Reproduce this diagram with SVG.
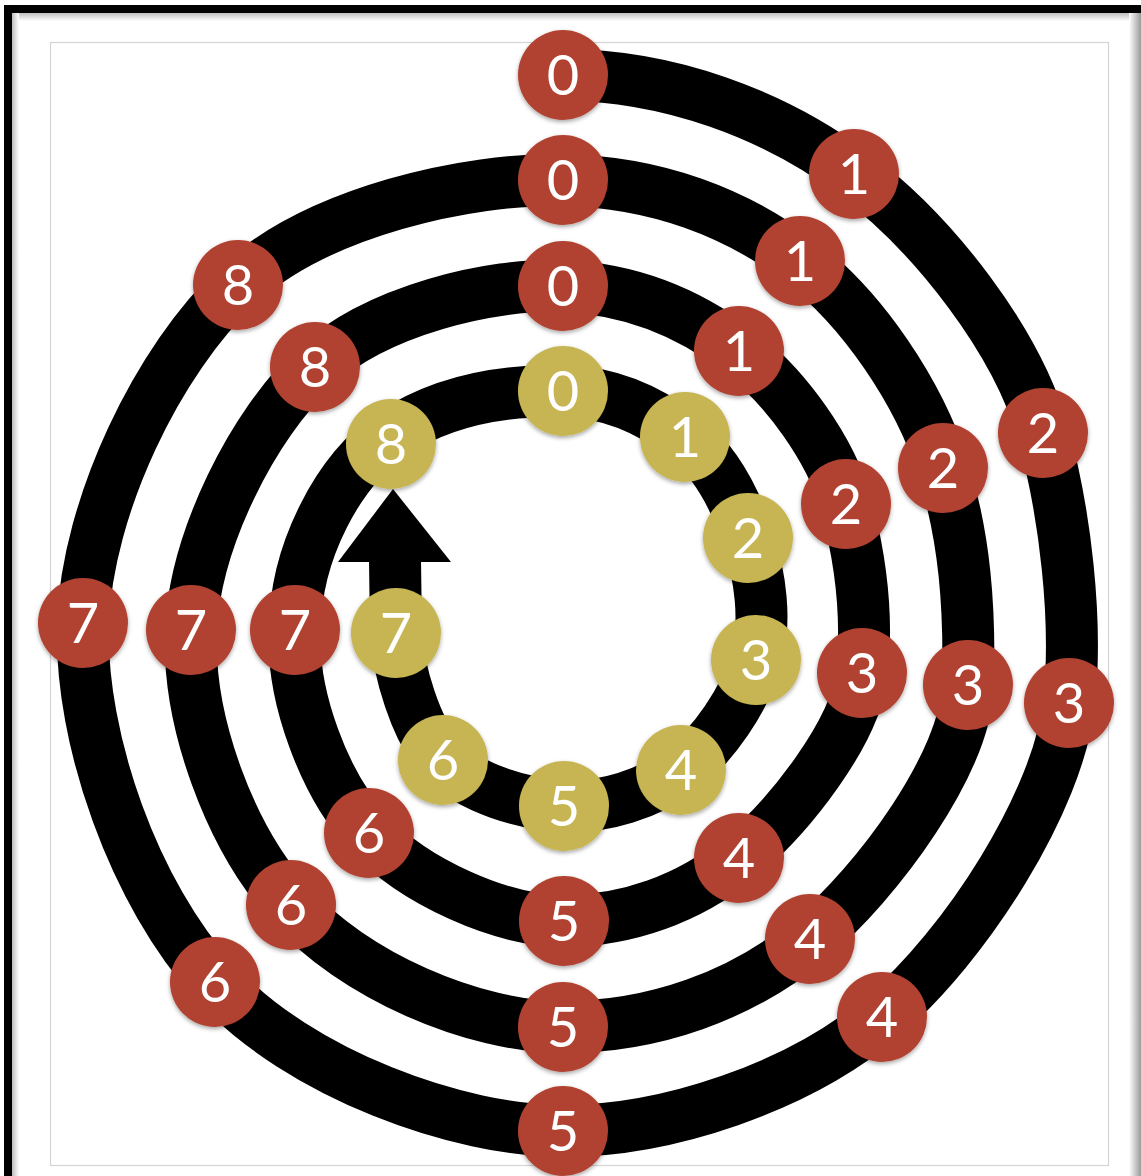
<svg xmlns="http://www.w3.org/2000/svg" width="1141" height="1176" viewBox="0 0 1141 1176">
  <defs>
    <style>
      .red { fill: #b14331; }
      .yel { fill: #c7b452; }
      .dot { filter: url(#sh); }
      .lbl { font-family: Lato, "Open Sans", "DejaVu Sans", sans-serif; font-size: 56px; fill: #ffffff; text-anchor: middle; }
      .track { fill: none; stroke: #000000; stroke-width: 52; stroke-linejoin: round; stroke-linecap: butt; }
    </style>
    <filter id="sh" x="-30%" y="-30%" width="160%" height="160%">
      <feDropShadow dx="0" dy="2" stdDeviation="2" flood-color="#000000" flood-opacity="0.35"/>
    </filter>
    <linearGradient id="rgrad" x1="0" y1="0" x2="1" y2="0">
      <stop offset="0" stop-color="#ffffff"/>
      <stop offset="1" stop-color="#9a9a9a"/>
    </linearGradient>
    <linearGradient id="tgrad" x1="0" y1="0" x2="0" y2="1">
      <stop offset="0" stop-color="#bdbdbd"/>
      <stop offset="1" stop-color="#ffffff"/>
    </linearGradient>
    <linearGradient id="lgrad" x1="0" y1="0" x2="1" y2="0">
      <stop offset="0" stop-color="#bdbdbd"/>
      <stop offset="1" stop-color="#ffffff"/>
    </linearGradient>
  </defs>

  <g id="frame">
    <rect x="0" y="0" width="1141" height="1176" fill="#ffffff"/>
    <rect x="12" y="13" width="1120" height="8" fill="url(#tgrad)"/>
    <rect x="12" y="13" width="7" height="1163" fill="url(#lgrad)"/>
    <rect x="1129" y="13" width="12" height="1163" fill="url(#rgrad)"/>
    <rect x="4" y="5" width="1137" height="8" fill="#000000"/>
    <rect x="4" y="5" width="8" height="1171" fill="#000000"/>
    <rect x="50.5" y="42.5" width="1058" height="1123" fill="none" stroke="#d4d4d4" stroke-width="1.2"/>
  </g>

  <g id="connectors">
    <path class="track" d="M 563 75
      C 668 75, 774 114, 854 174
      C 934 234, 1017 341, 1043 433
      C 1065 512, 1078 620, 1069 703
      C 1059 800, 966 946, 882 1017
      C 798 1088, 666 1131, 563 1131
      C 460 1131, 300 1075, 215 982
      C 135 895, 79 739, 83 623
      C 87 507, 158 359, 238 285
      C 318 211, 469 178, 563 180
      C 657 182, 737 213, 800 261
      C 863 309, 919 393, 943 468
      C 965 538, 970 608, 968 685
      C 966 762, 878 882, 810 939
      C 742 996, 653 1027, 563 1027
      C 473 1027, 353 975, 291 905
      C 229 837, 187 720, 191 630
      C 195 540, 253 424, 315 367
      C 377 310, 492 283, 563 286
      C 634 289, 692 315, 739 351
      C 786 387, 831 450, 846 504
      C 860 556, 868 615, 862 673
      C 856 732, 789 817, 739 858
      C 689 899, 626 921, 564 921
      C 502 921, 414 882, 369 833
      C 324 785, 291 695, 295 630
      C 295 553, 338 470, 392 434
      C 446 398, 508 390, 563 391
      C 612 392, 654 413, 685 437
      C 716 462, 736 501, 748 538
      C 760 575, 767 621, 756 660
      C 745 699, 713 746, 681 770
      C 649 794, 604 808, 564 806
      C 524 804, 471 789, 443 760
      C 415 731, 398 668, 396 633
      L 395 560"/>
    <polygon points="338,562 451,562 393,489" fill="#000000"/>
  </g>

  <g id="nodes">
    <g id="r0a"><circle class="dot red" cx="563" cy="75" r="45"/><text class="lbl" x="563" y="95">0</text></g>
    <g id="r0b"><circle class="dot red" cx="563" cy="180" r="45"/><text class="lbl" x="563" y="200">0</text></g>
    <g id="r0c"><circle class="dot red" cx="563" cy="286" r="45"/><text class="lbl" x="563" y="306">0</text></g>
    <g id="r1a"><circle class="dot red" cx="854" cy="174" r="45"/><text class="lbl" x="854" y="194">1</text></g>
    <g id="r1b"><circle class="dot red" cx="800" cy="261" r="45"/><text class="lbl" x="800" y="281">1</text></g>
    <g id="r1c"><circle class="dot red" cx="739" cy="351" r="45"/><text class="lbl" x="739" y="371">1</text></g>
    <g id="r2a"><circle class="dot red" cx="1043" cy="433" r="45"/><text class="lbl" x="1043" y="453">2</text></g>
    <g id="r2b"><circle class="dot red" cx="943" cy="468" r="45"/><text class="lbl" x="943" y="488">2</text></g>
    <g id="r2c"><circle class="dot red" cx="846" cy="504" r="45"/><text class="lbl" x="846" y="524">2</text></g>
    <g id="r3a"><circle class="dot red" cx="1069" cy="703" r="45"/><text class="lbl" x="1069" y="723">3</text></g>
    <g id="r3b"><circle class="dot red" cx="968" cy="685" r="45"/><text class="lbl" x="968" y="705">3</text></g>
    <g id="r3c"><circle class="dot red" cx="862" cy="673" r="45"/><text class="lbl" x="862" y="693">3</text></g>
    <g id="r4a"><circle class="dot red" cx="882" cy="1017" r="45"/><text class="lbl" x="882" y="1037">4</text></g>
    <g id="r4b"><circle class="dot red" cx="810" cy="939" r="45"/><text class="lbl" x="810" y="959">4</text></g>
    <g id="r4c"><circle class="dot red" cx="739" cy="858" r="45"/><text class="lbl" x="739" y="878">4</text></g>
    <g id="r5a"><circle class="dot red" cx="563" cy="1131" r="45"/><text class="lbl" x="563" y="1151">5</text></g>
    <g id="r5b"><circle class="dot red" cx="563" cy="1027" r="45"/><text class="lbl" x="563" y="1047">5</text></g>
    <g id="r5c"><circle class="dot red" cx="564" cy="921" r="45"/><text class="lbl" x="564" y="941">5</text></g>
    <g id="r6a"><circle class="dot red" cx="215" cy="982" r="45"/><text class="lbl" x="215" y="1002">6</text></g>
    <g id="r6b"><circle class="dot red" cx="291" cy="905" r="45"/><text class="lbl" x="291" y="925">6</text></g>
    <g id="r6c"><circle class="dot red" cx="369" cy="833" r="45"/><text class="lbl" x="369" y="853">6</text></g>
    <g id="r7a"><circle class="dot red" cx="83" cy="623" r="45"/><text class="lbl" x="83" y="643">7</text></g>
    <g id="r7b"><circle class="dot red" cx="191" cy="630" r="45"/><text class="lbl" x="191" y="650">7</text></g>
    <g id="r7c"><circle class="dot red" cx="295" cy="630" r="45"/><text class="lbl" x="295" y="650">7</text></g>
    <g id="r8a"><circle class="dot red" cx="238" cy="285" r="45"/><text class="lbl" x="238" y="305">8</text></g>
    <g id="r8b"><circle class="dot red" cx="315" cy="367" r="45"/><text class="lbl" x="315" y="387">8</text></g>
    <g id="y0"><circle class="dot yel" cx="563" cy="391" r="45"/><text class="lbl" x="563" y="411">0</text></g>
    <g id="y1"><circle class="dot yel" cx="685" cy="437" r="45"/><text class="lbl" x="685" y="457">1</text></g>
    <g id="y2"><circle class="dot yel" cx="748" cy="538" r="45"/><text class="lbl" x="748" y="558">2</text></g>
    <g id="y3"><circle class="dot yel" cx="756" cy="660" r="45"/><text class="lbl" x="756" y="680">3</text></g>
    <g id="y4"><circle class="dot yel" cx="681" cy="770" r="45"/><text class="lbl" x="681" y="790">4</text></g>
    <g id="y5"><circle class="dot yel" cx="564" cy="806" r="45"/><text class="lbl" x="564" y="826">5</text></g>
    <g id="y6"><circle class="dot yel" cx="443" cy="760" r="45"/><text class="lbl" x="443" y="780">6</text></g>
    <g id="y7"><circle class="dot yel" cx="396" cy="633" r="45"/><text class="lbl" x="396" y="653">7</text></g>
    <g id="y8"><circle class="dot yel" cx="391" cy="444" r="45"/><text class="lbl" x="391" y="464">8</text></g>
  </g>
</svg>
